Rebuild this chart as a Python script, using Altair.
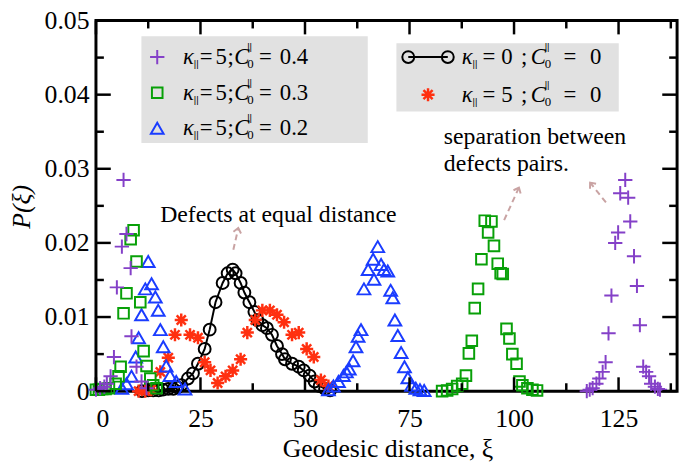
import altair as alt
import pandas as pd

# ---------------- data ----------------
# kappa=5 ; C0=0.4  (purple plus)
c04_x = [0, 1, 2, 2.6, 3.5, 4.3, 5.0, 6.2, 6.6, 7.3, 8.3, 8.5, 9.7, 10.9, 12.1,
         117.4, 118.1, 118.8, 119.7, 120.4, 121.2, 121.9, 122.6, 123.3, 124.2, 124.9,
         125.4, 126.6, 127.3, 127.8, 128.7, 129.4, 130.1, 130.9, 131.6, 132.3, 132.8,
         133.7, 134.4, 134.9]
c04_y = [0.0002, 0.0004, 0.0006, 0.001, 0.002, 0.0046, 0.014, 0.0195, 0.0285, 0.0212,
         0.0166, 0.0074, 0.0033, 0.0013, 0.0004,
         0.0, 0.0002, 0.0004, 0.001, 0.0017, 0.0026, 0.0039, 0.0078, 0.0129, 0.020, 0.0214,
         0.0267, 0.0285, 0.0261, 0.0229, 0.0182, 0.0142, 0.0089, 0.0033, 0.0026, 0.002,
         0.001, 0.0006, 0.0003, 0.0002]

# kappa=5 ; C0=0.3  (green squares)
c03_x = [0, 0.7, 1.5, 2.3, 3.1, 4.7, 5.4, 5.9, 6.6, 7.3, 8.3, 9.0, 9.7, 10.6, 11.4,
         12.1, 13.0, 13.7, 14.5,
         82.8, 84, 85.2, 86.4, 87.6, 88.5, 89.2, 89.9, 90.6, 91.4, 92.2, 93.0, 93.8, 94.6,
         95.2, 96.1, 96.8, 97.3, 98.2, 98.9, 99.6, 100.6, 101.3, 102, 103.2, 104.4, 105.5]
c03_y = [0.0002, 0.0002, 0.0003, 0.0003, 0.0004, 0.001, 0.002, 0.0033, 0.0105, 0.0132,
         0.0205, 0.0217, 0.0175, 0.012, 0.0054, 0.0034, 0.0017, 0.0008, 0.0004,
         0.0, 0.0001, 0.0003, 0.0007, 0.001, 0.0021, 0.0051, 0.0068, 0.0112, 0.0138,
         0.0178, 0.023, 0.0214, 0.0229, 0.0196, 0.0172, 0.0159, 0.0158, 0.0084, 0.0071,
         0.005, 0.0037, 0.0013, 0.0008, 0.0004, 0.0002, 0.0001]

# kappa=5 ; C0=0.2  (blue triangles)
c02_x = [6.2, 7.3, 8.5, 9.5, 10.2, 10.9, 11.8, 12.5, 13.3, 14.2, 14.9, 15.4, 16.1, 16.8,
         17.7, 19.2, 21.3,
         55.6, 56.8, 58.0, 59.2, 59.9, 60.6, 61.5, 62.2, 62.7, 63.4, 64.1, 65.1, 66.3,
         66.5, 67.4, 68.2, 68.9, 69.8, 70.5, 71.0, 71.5, 72.2, 73.0, 73.8, 74.6, 75.5,
         76.5, 77.5, 78.5]
c02_y = [0.0004, 0.001, 0.002, 0.0046, 0.0072, 0.0103, 0.0138, 0.0175, 0.0145, 0.0127,
         0.0109, 0.0083, 0.006, 0.0034, 0.0021, 0.0013, 0.0003,
         0.0002, 0.0007, 0.0013, 0.0021, 0.0026, 0.003, 0.0041, 0.006, 0.0074, 0.0083,
         0.0138, 0.0164, 0.0178, 0.0151, 0.0195, 0.0171, 0.0164, 0.0162, 0.0136, 0.0126,
         0.0096, 0.0075, 0.0052, 0.0033, 0.0018, 0.0008, 0.0004, 0.0002, 0.0001]

# kappa=0 ; C0=0  (black circles + line)
k0_x = [11, 12.5, 13.7, 15, 16, 17.3, 18.5, 19.5, 20.4, 22, 23.2, 24.4, 26, 27.2, 28.6,
        30.3, 31.5, 32.7, 33.4, 34.6, 35.5, 36.7, 37.9, 38.6, 39.8, 40.9, 42.1, 43.3,
        44.5, 45.2, 46.9, 48.5, 49.7, 51.1, 52.3, 53.5, 54.8, 56]
k0_y = [0.0, 0.0001, 0.0001, 0.0001, 0.0002, 0.0003, 0.0003, 0.0005, 0.0008, 0.0017,
        0.0024, 0.0037, 0.0057, 0.0083, 0.012, 0.0146, 0.0159, 0.0164, 0.0159, 0.0146,
        0.0133, 0.012, 0.0107, 0.0096, 0.0089, 0.0085, 0.0076, 0.0061, 0.005, 0.0043,
        0.0037, 0.0033, 0.0028, 0.0021, 0.0013, 0.0007, 0.0003, 0.0001]

# kappa=5 ; C0=0  (red asterisks)
k5_x = [10.2, 11.8, 13.2, 15.4, 17.3, 18.9, 20.4, 22.5, 24.4, 26, 27.4, 29.1, 31, 32.7,
        34.6, 36.2, 38.1, 39.8, 41.6, 43.3, 45, 46.9, 48.5, 50.4, 52.1, 53.8, 55.6]
k5_y = [0.0, 0.0, 0.0002, 0.0026, 0.0045, 0.0076, 0.0096, 0.0076, 0.0072, 0.0039,
        0.0028, 0.0011, 0.002, 0.0028, 0.0043, 0.0079, 0.0096, 0.0109, 0.0109, 0.0103,
        0.0093, 0.0076, 0.0079, 0.0057, 0.0046, 0.0015, 0.0007]

x_major = [0, 25, 50, 75, 100, 125]
x_minor = [12.5, 37.5, 62.5, 87.5, 112.5, 137.5]
y_major = [0, 0.01, 0.02, 0.03, 0.04, 0.05]
y_minor = [0.005, 0.015, 0.025, 0.035, 0.045]

legend_left = [("5", "0.4"), ("5", "0.3"), ("5", "0.2")]
legend_right = [("0", "0"), ("5", "0")]

note_center = "Defects at equal distance"
note_pairs = ["separation between", "defects pairs."]

# ---------------- layout / style ----------------
TOP, BOTTOM = 18, 393
W, H = 588, BOTTOM - TOP
X_MAX, Y_MAX = 139.0, 0.05
FONT = "Liberation Serif, Times New Roman, DejaVu Serif, serif"
PURPLE, GREEN, BLUE, RED = "#8440c8", "#08a008", "#1a3cff", "#ff3010"
ARROW = "#c9a3a3"
BOX = "#e1e1e1"


def dx(px):  # page pixel -> data x
    return (px - 97) / W * X_MAX


def dy(py):  # page pixel -> data y
    return (BOTTOM - py) / H * Y_MAX


xscale = alt.Scale(domain=[0, X_MAX], nice=False, zero=False)
yscale = alt.Scale(domain=[0, Y_MAX], nice=False, zero=False)
xaxis = alt.Axis(values=x_major, title="Geodesic distance, ξ", grid=False, ticks=False,
                 domain=False, labelFont=FONT, labelFontSize=26, labelColor="black",
                 labelPadding=15, format="d", titleFont=FONT, titleFontSize=26,
                 titleFontWeight="normal", titleColor="black", titleX=295, titleY=58,
                 titleBaseline="middle", titleAlign="center")
yaxis = alt.Axis(values=y_major, title="P(ξ)", grid=False, ticks=False, domain=False,
                 labelFont=FONT, labelFontSize=26, labelColor="black", labelPadding=7,
                 format="~g", titleFont=FONT, titleFontSize=26, titleFontWeight="normal",
                 titleFontStyle="italic", titleColor="black", titleAngle=270, titleX=-75,
                 titleY=188, titleBaseline="middle", titleAlign="center")


def X(f="x"):
    return alt.X(f + ":Q", scale=xscale, axis=xaxis)


def Y(f="y"):
    return alt.Y(f + ":Q", scale=yscale, axis=yaxis)


PLUS = "M -1 0 L 1 0 M 0 -1 L 0 1"
STAR = "M -1 0 L 1 0 M 0 -1 L 0 1 M -0.7 -0.7 L 0.7 0.7 M -0.7 0.7 L 0.7 -0.7"
CHEV = "M -0.75 0.9 L 0 0 L 0.75 0.9"

sty = {
    "plus": dict(shape=PLUS, size=210, color=PURPLE, strokeWidth=2, filled=False, opacity=1),
    "square": dict(shape="square", size=115, color=GREEN, strokeWidth=2, filled=False, opacity=1),
    "tri": dict(shape="triangle-up", size=165, color=BLUE, strokeWidth=2, filled=False, opacity=1),
    "circ": dict(shape="circle", size=145, color="black", strokeWidth=2, filled=False, opacity=1),
    "star": dict(shape=STAR, size=175, color=RED, strokeWidth=2.5, filled=False, opacity=1),
}


def pts(xs, ys, key):
    return alt.Chart(pd.DataFrame({"x": xs, "y": ys})).mark_point(**sty[key]).encode(x=X(), y=Y())


layers = []

# legend boxes
boxes = pd.DataFrame({"x": [dx(143), dx(401)], "x2": [dx(372), dx(626)],
                      "y": [dy(34), dy(41)], "y2": [dy(142), dy(110)]})
layers.append(alt.Chart(boxes).mark_rect(color=BOX).encode(x=X(), x2="x2:Q", y=Y(), y2="y2:Q"))

# data
layers.append(alt.Chart(pd.DataFrame({"x": k0_x, "y": k0_y})).mark_line(color="black", strokeWidth=2)
              .encode(x=X(), y=Y()))
layers.append(pts(k0_x, k0_y, "circ"))
layers.append(pts(k5_x, k5_y, "star"))
layers.append(pts(c02_x, c02_y, "tri"))
layers.append(pts(c03_x, c03_y, "square"))
layers.append(pts(c04_x, c04_y, "plus"))

# legend symbols
left_rows_py = [55, 91, 127]
for key, py in zip(["plus", "square", "tri"], left_rows_py):
    layers.append(pts([dx(159)], [dy(py)], key))
layers.append(alt.Chart(pd.DataFrame({"x": [dx(413), dx(453)], "y": [dy(55), dy(55)]}))
              .mark_line(color="black", strokeWidth=2).encode(x=X(), y=Y()))
layers.append(pts([dx(413), dx(453)], [dy(55), dy(55)], "circ"))
layers.append(pts([dx(433)], [dy(93)], "star"))

# legend texts (math-like, built from pieces)
pieces = []


def row(x0, py, off, v1, v2, fs):
    pieces.append((x0 + off[0], py, "κ", fs, "italic"))
    pieces.append((x0 + off[1], py + 7, "||", 11, "script"))
    pieces.append((x0 + off[2], py, "=", fs, "normal"))
    pieces.append((x0 + off[3], py, v1, fs, "normal"))
    pieces.append((x0 + off[4], py, ";", fs, "normal"))
    pieces.append((x0 + off[5], py, "C", fs, "italic"))
    pieces.append((x0 + off[6], py - 10, "||", 11, "script"))
    pieces.append((x0 + off[6], py + 7, "0", 13, "normal"))
    pieces.append((x0 + off[7], py, "=", fs, "normal"))
    pieces.append((x0 + off[8], py, v2, fs, "normal"))


off_l = [0, 11, 17, 33, 45, 52, 65, 77, 98]
off_r = [0, 11, 21, 40, 60, 70, 84, 103, 130]
for (v1, v2), py in zip(legend_left, left_rows_py):
    row(185, py, off_l, v1, v2, 23)
for (v1, v2), py in zip(legend_right, [55, 93]):
    row(467, py, off_r, v1, v2, 23)

pdf = pd.DataFrame(pieces, columns=["px", "py", "t", "fs", "st"])
pdf["x"] = pdf["px"].map(dx)
pdf["y"] = pdf["py"].map(dy)
for st, style, weight in [("normal", "normal", "normal"), ("italic", "italic", "normal"),
                          ("script", "normal", "bold")]:
    layers.append(alt.Chart(pdf[pdf["st"] == st]).mark_text(
        font=FONT, fontStyle=style, fontWeight=weight, align="left", baseline="middle",
        color="black")
        .encode(x=X(), y=Y(), text="t:N", size=alt.Size("fs:Q", scale=None)))

# annotations
notes = pd.DataFrame({"x": [dx(162), dx(449), dx(449)], "y": [dy(215), dy(136), dy(163)],
                      "t": [note_center] + note_pairs})
layers.append(alt.Chart(notes).mark_text(font=FONT, fontSize=24, align="left",
                                          baseline="middle", color="black")
              .encode(x=X(), y=Y(), text="t:N"))

arrows = pd.DataFrame({"x": [dx(236), dx(510), dx(613)], "y": [dy(250), dy(220), dy(202)],
                       "x2": [dx(241), dx(525), dx(597)], "y2": [dy(228), dy(187), dy(182)],
                       "ang": [13, 24, 321]})
layers.append(alt.Chart(arrows).mark_rule(color=ARROW, strokeWidth=2, strokeDash=[6, 4])
              .encode(x=X(), y=Y(), x2="x2:Q", y2="y2:Q"))
layers.append(alt.Chart(arrows).mark_point(shape=CHEV, size=110, filled=False, color=ARROW,
                                           strokeWidth=2, opacity=1)
              .encode(x=X("x2"), y=Y("y2"), angle=alt.Angle("ang:Q", scale=None)))

# inward ticks on all four sides
for vals, ln in [(x_major, 14), (x_minor, 8)]:
    d = pd.DataFrame({"x": vals})
    layers.append(alt.Chart(d).mark_rule(color="black", strokeWidth=2.5)
                  .encode(x=X(), y=alt.value(H), y2=alt.value(H - ln)))
    layers.append(alt.Chart(d).mark_rule(color="black", strokeWidth=2.5)
                  .encode(x=X(), y=alt.value(0), y2=alt.value(ln)))
for vals, ln in [(y_major, 15), (y_minor, 8)]:
    d = pd.DataFrame({"y": vals})
    layers.append(alt.Chart(d).mark_rule(color="black", strokeWidth=2.5)
                  .encode(y=Y(), x=alt.value(0), x2=alt.value(ln)))
    layers.append(alt.Chart(d).mark_rule(color="black", strokeWidth=2.5)
                  .encode(y=Y(), x=alt.value(W), x2=alt.value(W - ln)))

chart = alt.layer(*layers).properties(
    width=W, height=H,
    autosize=alt.AutoSizeParams(type="none"),
    padding={"left": 89, "top": TOP - 8, "right": 7, "bottom": 70},
).configure_view(stroke="black", strokeWidth=3)

chart.save("out.html", embed_options={"renderer": "svg", "actions": False})
